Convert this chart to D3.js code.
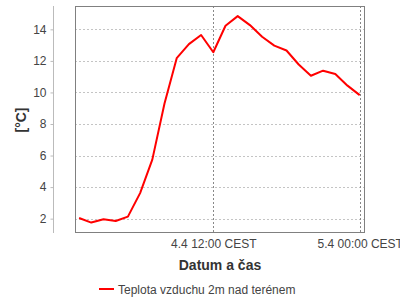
<!DOCTYPE html>
<html><head><meta charset="utf-8">
<script src="https://cdn.jsdelivr.net/npm/d3@7"></script>
<style>
html,body{margin:0;padding:0;background:#fff;}
svg{display:block;font-family:"Liberation Sans",Arial,sans-serif;}
</style></head>
<body><svg id="c" width="400" height="300"></svg>
<script>
// hourly observations, 4.4 01:00 .. 5.4 00:00 (hours from 4.4 00:00)
const hours = [1,2,3,4,5,6,7,8,9,10,11,12,13,14,15,16,17,18,19,20,21,22,23,24];
const temps = [2.04,1.75,1.96,1.85,2.13,3.62,5.74,9.3,12.17,13.06,13.64,12.55,14.23,14.84,14.27,13.53,12.97,12.66,11.77,11.06,11.38,11.17,10.43,9.83];
const yTicks = [2,4,6,8,10,12,14];
const xTickHours = [12,24];
const xTickLabels = ["4.4 12:00 CEST","5.4 00:00 CEST"];
const seriesName = "Teplota vzduchu 2m nad terénem";
const xTitle = "Datum a čas";
const yTitle = "[°C]";

const base = Date.UTC(2024,3,4,0,0);
const toDate = h => new Date(base + h*3600000);

const L=75, R=365, T=6, B=233;
const svg = d3.select("#c");
const x = d3.scaleUtc().domain([toDate(0.664), toDate(24.434)]).range([L,R]);
const y = d3.scaleLinear().domain([1.09,15.48]).range([B,T]);

// horizontal grid
svg.append("g").selectAll("line").data(yTicks).join("line")
  .attr("x1",L).attr("x2",R).attr("y1",d=>Math.round(y(d))+0.5).attr("y2",d=>Math.round(y(d))+0.5)
  .attr("stroke","#c4c4c4").attr("stroke-dasharray","2,2");
// vertical grid
svg.append("g").selectAll("line").data(xTickHours).join("line")
  .attr("x1",d=>Math.round(x(toDate(d)))+0.5).attr("x2",d=>Math.round(x(toDate(d)))+0.5)
  .attr("y1",T).attr("y2",B)
  .attr("stroke","#888").attr("stroke-dasharray","2,2");

// y axis (offset)
const yAxis = d3.axisLeft(y).tickValues(yTicks).tickSize(3).tickPadding(4).tickFormat(d3.format("d"));
const ya = svg.append("g").attr("transform","translate(53.5,0)").call(yAxis);
ya.select(".domain").attr("stroke","#bbb").attr("d",`M0,${T}V${B}`);
ya.selectAll(".tick line").attr("stroke","#bbb");
ya.selectAll(".tick text").attr("fill","#444").attr("font-size",12).attr("font-family","'Liberation Sans',Arial,sans-serif");

// x axis labels
const xAxis = d3.axisBottom(x).tickValues(xTickHours.map(toDate)).tickSize(0).tickPadding(6)
  .tickFormat((d,i)=>xTickLabels[i]);
const xa = svg.append("g").attr("transform",`translate(0,${B})`).call(xAxis);
xa.select(".domain").remove();
xa.selectAll(".tick text").attr("fill","#444").attr("font-size",12).attr("font-family","'Liberation Sans',Arial,sans-serif");

// frame
svg.append("rect").attr("x",L+0.5).attr("y",T+0.5).attr("width",R-L-1).attr("height",B-T-1)
  .attr("fill","none").attr("stroke","#808080");

// line
svg.append("path").datum(hours.map((h,i)=>[h,temps[i]]))
  .attr("fill","none").attr("stroke","#ff0000").attr("stroke-width",2).attr("stroke-linejoin","round")
  .attr("d",d3.line().x(d=>x(toDate(d[0]))).y(d=>y(d[1])));

// titles
svg.append("text").attr("x",(L+R)/2).attr("y",270).attr("text-anchor","middle")
  .attr("font-size",14).attr("font-weight","bold").attr("fill","#333").text(xTitle);
svg.append("text").attr("transform","translate(26,120) rotate(-90)").attr("text-anchor","middle")
  .attr("font-size",14).attr("font-weight","bold").attr("fill","#333").text(yTitle);

// legend
const lg = svg.append("g");
lg.append("line").attr("x1",99).attr("x2",114).attr("y1",289).attr("y2",289).attr("stroke","#ff0000").attr("stroke-width",2);
lg.append("text").attr("x",118).attr("y",293.5).attr("font-size",12).attr("fill","#444").text(seriesName);
</script></body></html>
